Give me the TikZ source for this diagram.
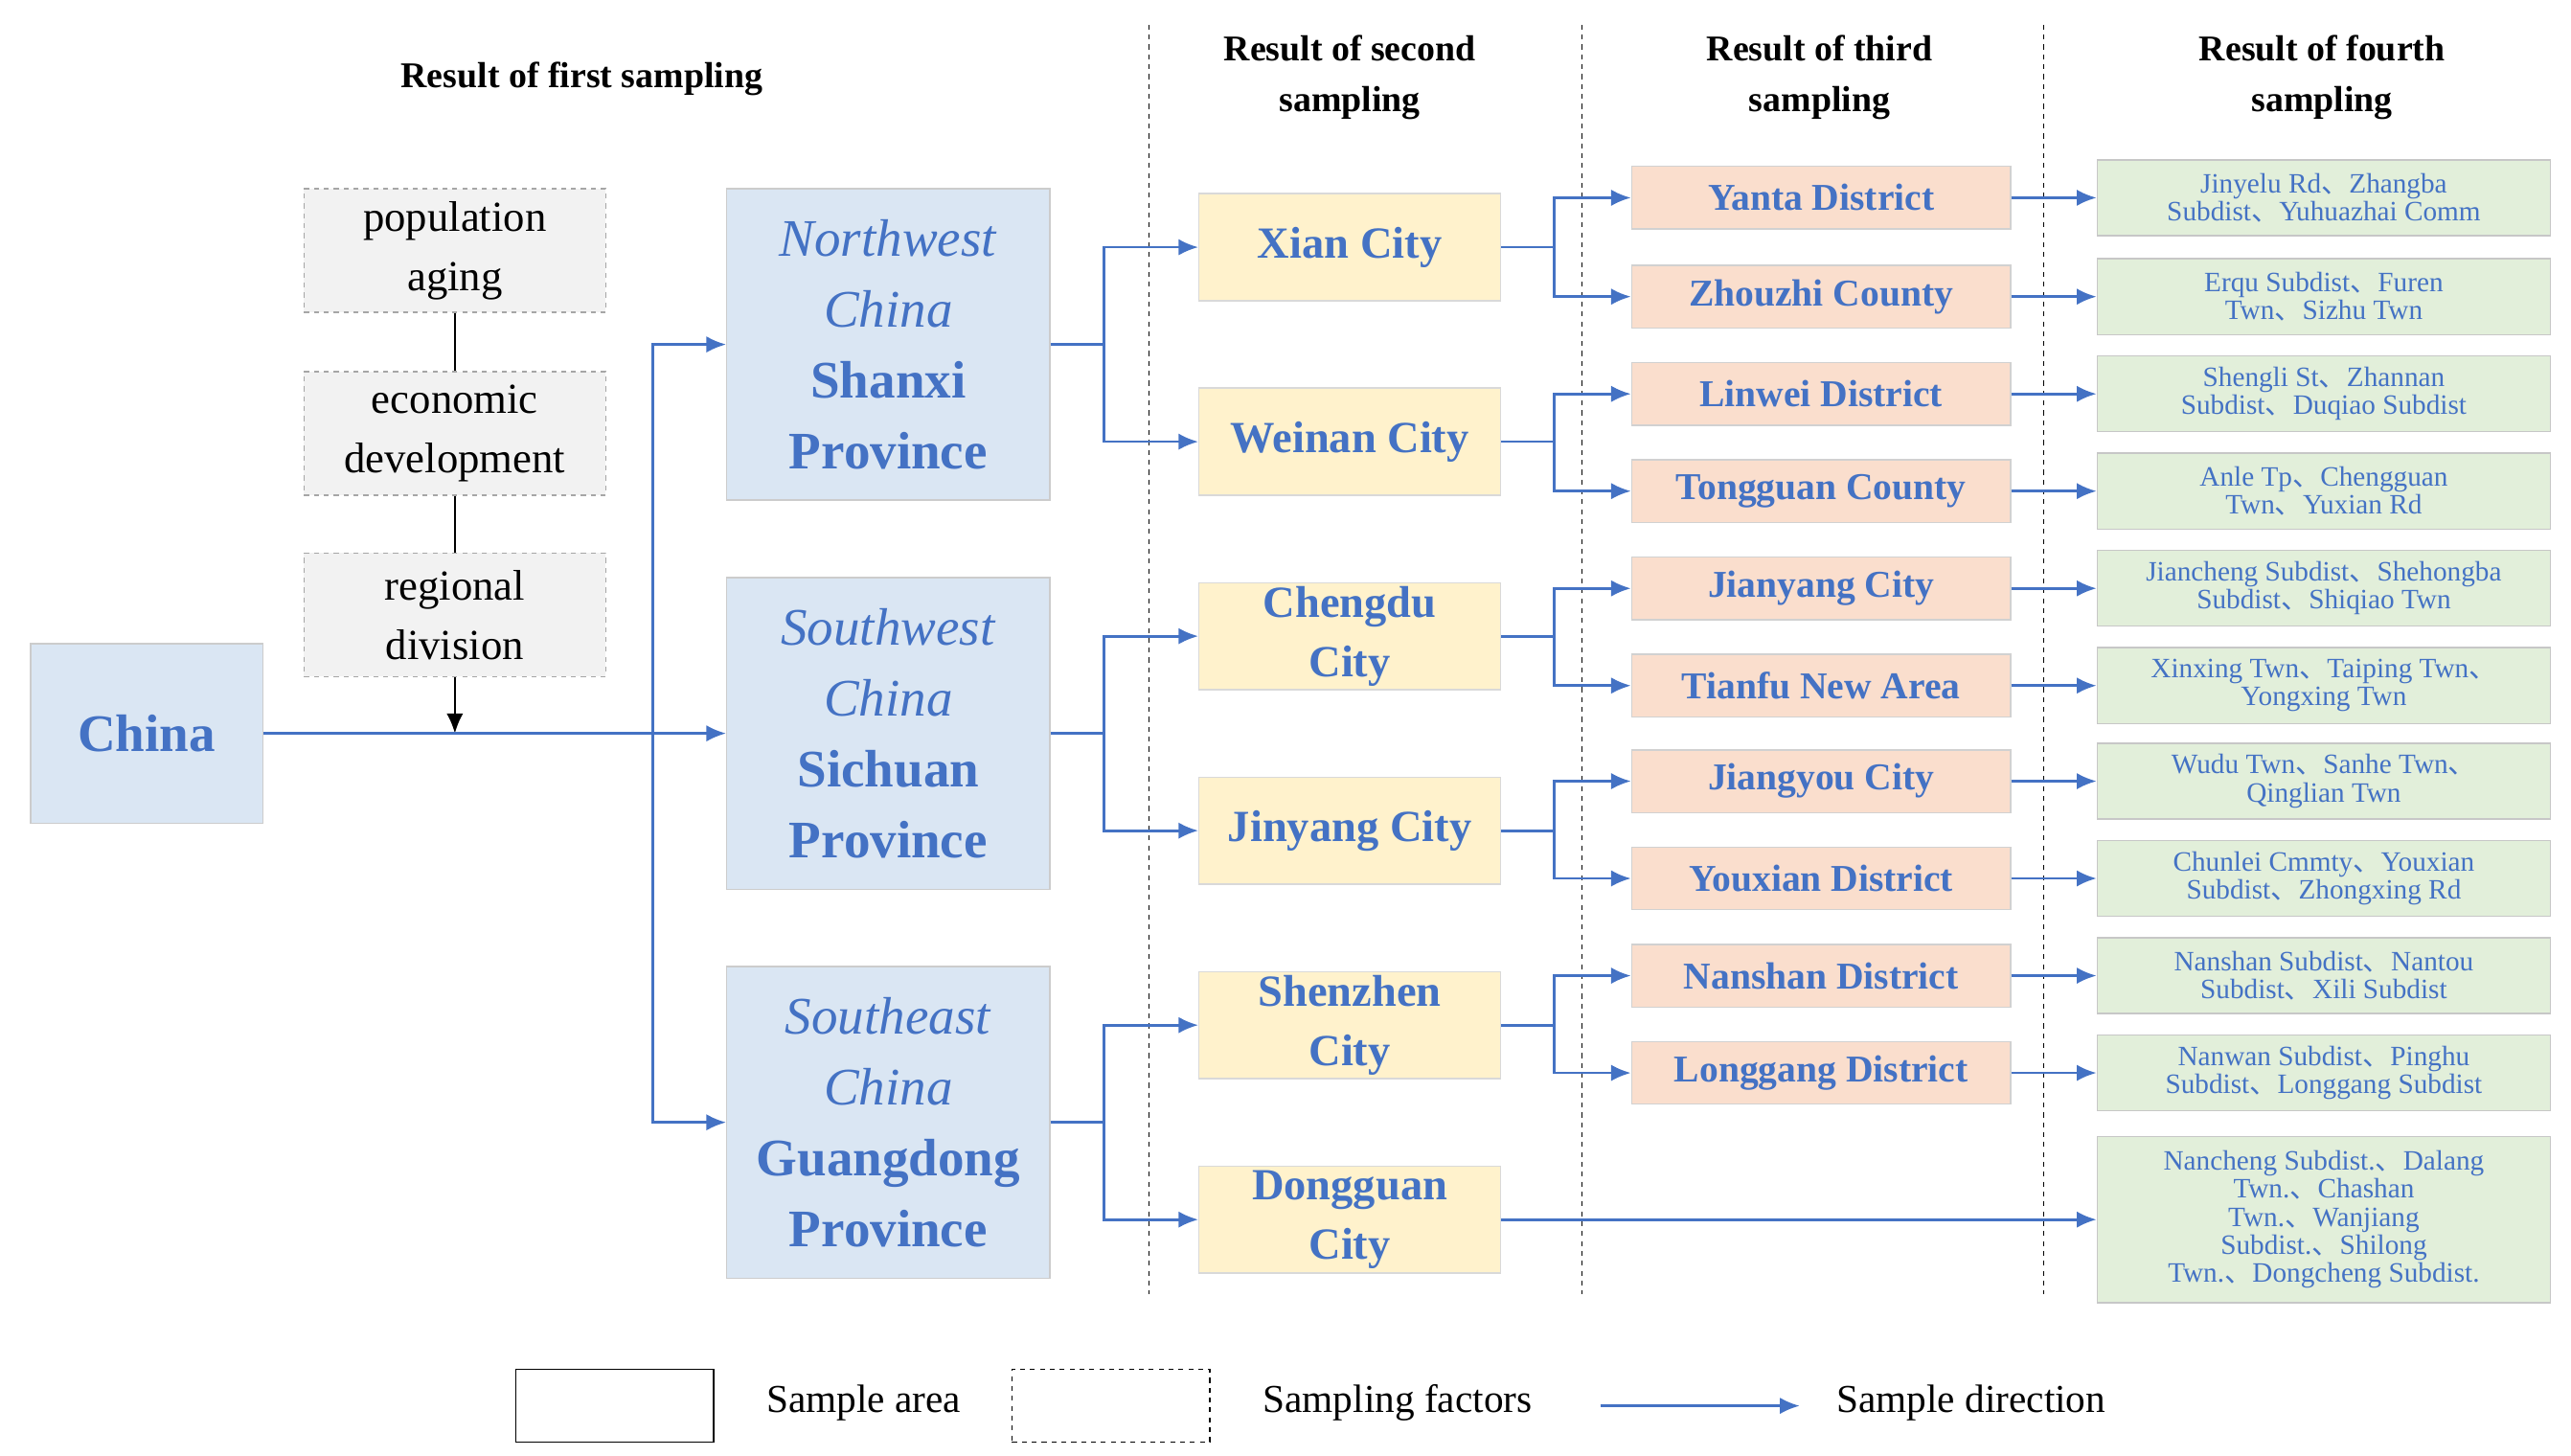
\documentclass[tikz,border=0pt]{standalone}
\usepackage{fontspec}
\setmainfont{Liberation Serif}
\newfontfamily\cjk{Noto Sans CJK SC}
\usetikzlibrary{arrows.meta}
\newcommand{\dn}{{\cjk 、}}
\definecolor{tb}{HTML}{4472C4}
\tikzset{
 box/.style={draw=#1,line width=0.8pt,inner sep=2pt,align=center},
 reg/.style={box=black!20,fill={rgb,255:red,218;green,230;blue,243},text=tb,minimum width=196pt,minimum height=189pt,font=\fontsize{32}{43}\selectfont},
 city/.style={box=black!15,fill={rgb,255:red,255;green,242;blue,204},text=tb,minimum width=183pt,minimum height=65pt,font=\bfseries\fontsize{27}{36}\selectfont},
 dist/.style={box=black!18,fill={rgb,255:red,250;green,222;blue,205},text=tb,minimum width=230pt,minimum height=38pt,font=\bfseries\fontsize{23}{26}\selectfont},
 four/.style={box=black!22,fill={rgb,255:red,226;green,239;blue,218},text=tb,minimum width=275pt,minimum height=46pt,font=\fontsize{17}{17}\selectfont},
 fac/.style={draw=black!35,dashed,line width=0.8pt,fill=black!5,minimum width=183pt,minimum height=75pt,align=center,font=\fontsize{26}{36}\selectfont},
 hd/.style={font=\bfseries\fontsize{22}{31}\selectfont,align=center},
 ar/.style={draw=tb,line width=1.6pt,-{Latex[length=12pt,width=10pt]}},
 ln/.style={draw=tb,line width=1.6pt},
 dv/.style={draw=black,dashed,line width=0.8pt},
}
\begin{document}
\begin{tikzpicture}[x=1pt,y=-1pt]
\useasboundingbox (0,0) rectangle (1560,883);
\node[hd] (h1) at (353,48) {Result of first sampling};
\node[hd] (h2) at (819,47) {Result of second\\sampling};
\node[hd] (h3) at (1104,47) {Result of third\\sampling};
\node[hd] (h4) at (1409,47) {Result of fourth\\sampling};
\coordinate (d1a) at (697,15); \coordinate (d1b) at (697,785);
\coordinate (d2a) at (960,15); \coordinate (d2b) at (960,785);
\coordinate (d3a) at (1240,15); \coordinate (d3b) at (1240,785);
\draw[dv] (d1a)--(d1b); \draw[dv] (d2a)--(d2b); \draw[dv] (d3a)--(d3b);

\node[box=black!20,fill={rgb,255:red,218;green,230;blue,243},text=tb,minimum width=141pt,minimum height=109pt,font=\bfseries\fontsize{32}{40}\selectfont] (china) at (89,445) {China};
\node[fac] (f1) at (276,152) {population\\aging};
\node[fac] (f2) at (276,263) {economic\\development};
\node[fac] (f3) at (276,373) {regional\\division};
\draw[line width=1.2pt] (f1)--(f2); \draw[line width=1.2pt] (f2)--(f3);
\coordinate (fj) at (276,445);
\draw[line width=1.2pt,-{Latex[length=12pt,width=10pt]}] (f3)--(fj);

\node[reg] (nw) at (539,209) {\textit{Northwest}\\\textit{China}\\\textbf{Shanxi}\\\textbf{Province}};
\node[reg] (sw) at (539,445) {\textit{Southwest}\\\textit{China}\\\textbf{Sichuan}\\\textbf{Province}};
\node[reg] (se) at (539,681) {\textit{Southeast}\\\textit{China}\\\textbf{Guangdong}\\\textbf{Province}};
\draw[ln] (china.east)--(fj);
\coordinate (j0) at (396,445);
\draw[ar] (fj)--(sw.west);
\draw[ar] (j0)|-(nw.west);
\draw[ar] (j0)|-(se.west);

\node[city] (c1) at (819,150) {Xian City};
\node[city] (c2) at (819,268) {Weinan City};
\node[city] (c3) at (819,386) {Chengdu\\City};
\node[city] (c4) at (819,504) {Jinyang City};
\node[city] (c5) at (819,622) {Shenzhen\\City};
\node[city] (c6) at (819,740) {Dongguan\\City};
\foreach \r/\a/\b/\y in {nw/c1/c2/209,sw/c3/c4/445,se/c5/c6/681}{
 \coordinate (k\r) at (670,\y);
 \draw[ln] (\r.east)--(k\r);
 \draw[ar] (k\r)|-(\a.west);
 \draw[ar] (k\r)|-(\b.west);
}
\node[dist] (t1) at (1105,120) {Yanta District};
\node[dist] (t2) at (1105,180) {Zhouzhi County};
\node[dist] (t3) at (1105,239) {Linwei District};
\node[dist] (t4) at (1105,298) {Tongguan County};
\node[dist] (t5) at (1105,357) {Jianyang City};
\node[dist] (t6) at (1105,416) {Tianfu New Area};
\node[dist] (t7) at (1105,474) {Jiangyou City};
\node[dist] (t8) at (1105,533) {Youxian District};
\node[dist] (t9) at (1105,592) {Nanshan District};
\node[dist] (t10) at (1105,651) {Longgang District};
\foreach \c/\a/\b/\y in {c1/t1/t2/150,c2/t3/t4/268,c3/t5/t6/386,c4/t7/t8/504,c5/t9/t10/622}{
 \coordinate (m\c) at (943,\y);
 \draw[ln] (\c.east)--(m\c);
 \draw[ar] (m\c)|-(\a.west);
 \draw[ar] (m\c)|-(\b.west);
}
\node[four] (g1) at (1410,120) {Jinyelu Rd\dn Zhangba\\Subdist\dn Yuhuazhai Comm};
\node[four] (g2) at (1410,180) {Erqu Subdist\dn Furen\\Twn\dn Sizhu Twn};
\node[four] (g3) at (1410,239) {Shengli St\dn Zhannan\\Subdist\dn Duqiao Subdist};
\node[four] (g4) at (1410,298) {Anle Tp\dn Chengguan\\Twn\dn Yuxian Rd};
\node[four] (g5) at (1410,357) {Jiancheng Subdist\dn Shehongba\\Subdist\dn Shiqiao Twn};
\node[four] (g6) at (1410,416) {Xinxing Twn\dn Taiping Twn\dn\\Yongxing Twn};
\node[four] (g7) at (1410,474) {Wudu Twn\dn Sanhe Twn\dn\\Qinglian Twn};
\node[four] (g8) at (1410,533) {Chunlei Cmmty\dn Youxian\\Subdist\dn Zhongxing Rd};
\node[four] (g9) at (1410,592) {Nanshan Subdist\dn Nantou\\Subdist\dn Xili Subdist};
\node[four] (g10) at (1410,651) {Nanwan Subdist\dn Pinghu\\Subdist\dn Longgang Subdist};
\node[four,minimum height=101pt] (g11) at (1410,740) {Nancheng Subdist.\dn Dalang\\Twn.\dn Chashan\\Twn.\dn Wanjiang\\Subdist.\dn Shilong\\Twn.\dn Dongcheng Subdist.};
\foreach \i in {1,...,10}{\draw[ar] (t\i.east)--(g\i.west);}
\draw[ar] (c6.east)--(g11.west);

\node[draw=black,line width=0.8pt,minimum width=120pt,minimum height=44pt] (l1) at (373,853) {};
\node[font=\fontsize{24}{28}\selectfont] (l1t) at (524,851) {Sample area};
\node[draw=black,dashed,line width=0.8pt,minimum width=120pt,minimum height=44pt] (l2) at (674,853) {};
\node[font=\fontsize{24}{28}\selectfont] (l2t) at (848,851) {Sampling factors};
\coordinate (l3a) at (971,853); \coordinate (l3b) at (1092,853);
\draw[ar] (l3a)--(l3b);
\node[font=\fontsize{24}{28}\selectfont] (l3t) at (1196,851) {Sample direction};
\end{tikzpicture}
\end{document}
